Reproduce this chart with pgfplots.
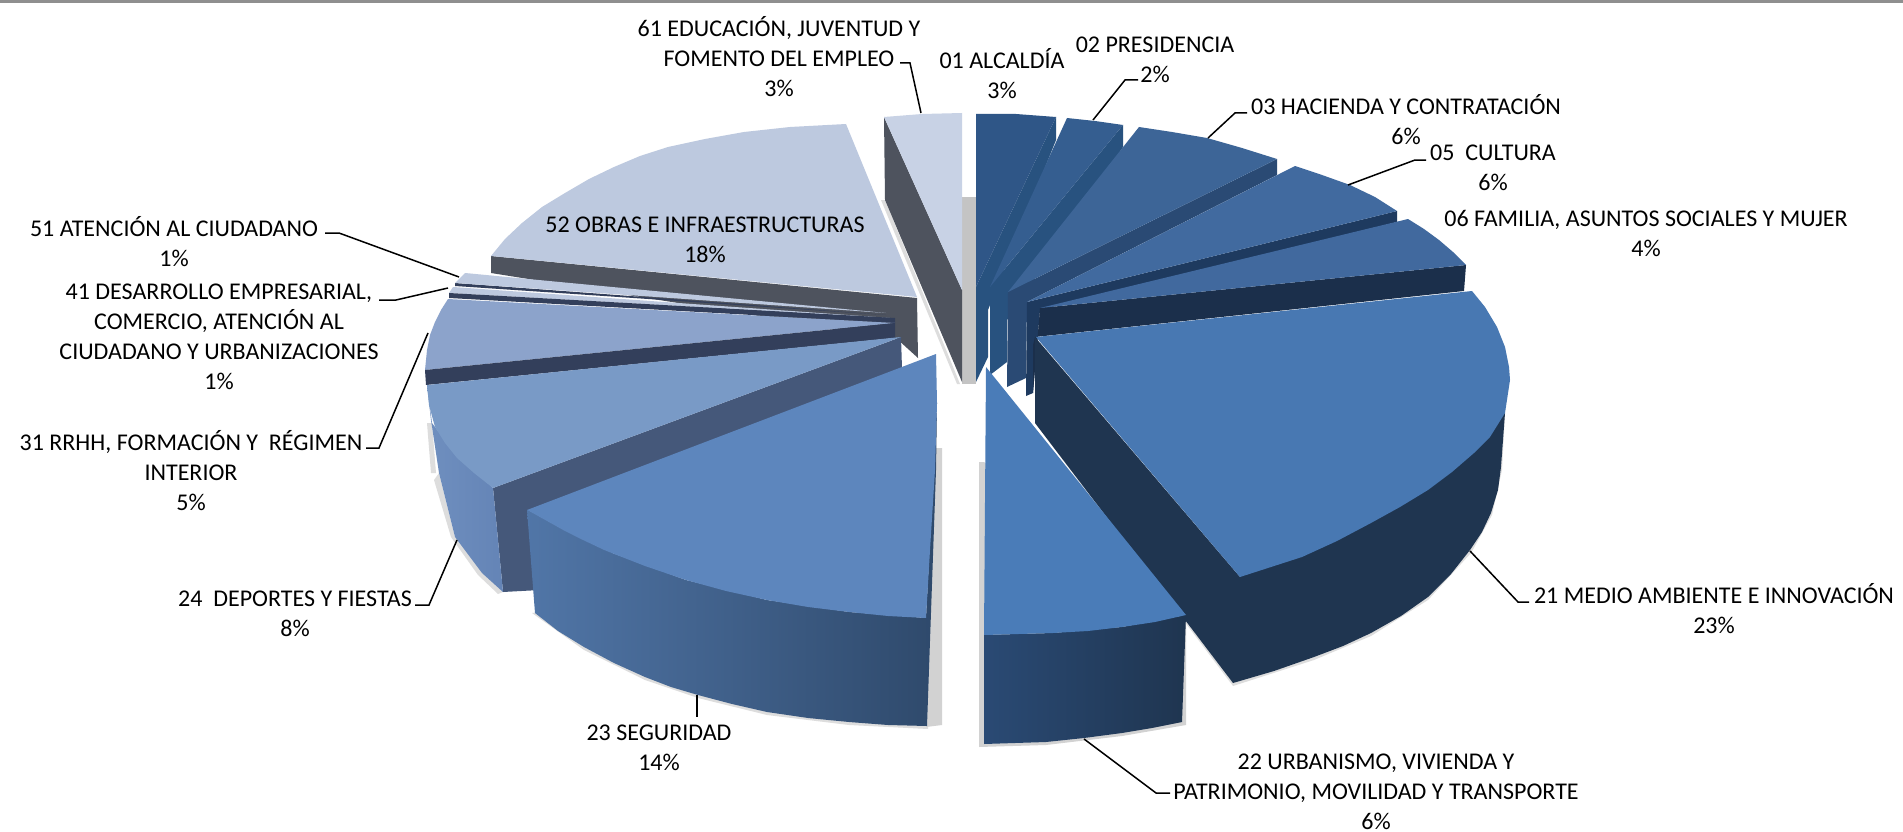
\documentclass[border=0pt]{standalone}
\usepackage{fontspec}
\setmainfont{Carlito}
\usepackage{pgfplots}
\pgfplotsset{compat=1.18}
\definecolor{t52}{HTML}{BDC9DF}
\definecolor{t61}{HTML}{C8D2E5}
\definecolor{s52}{HTML}{4E535E}
\definecolor{t31}{HTML}{8CA3CB}
\definecolor{t24}{HTML}{799AC6}
\definecolor{s24}{HTML}{45587A}
\definecolor{s31}{HTML}{333F5B}
\definecolor{t23}{HTML}{5D86BD}
\definecolor{t22}{HTML}{4A7CB8}
\definecolor{t21}{HTML}{4878B2}
\definecolor{t06}{HTML}{41699E}
\definecolor{t05}{HTML}{416A9F}
\definecolor{t03}{HTML}{3D6597}
\definecolor{t02}{HTML}{355E90}
\definecolor{t01}{HTML}{2F5687}
\definecolor{s01}{HTML}{28527F}
\definecolor{s03}{HTML}{2A4A74}
\definecolor{s05}{HTML}{1E3A5F}
\definecolor{s06}{HTML}{1B2F4B}
\definecolor{s21}{HTML}{1F3550}
\definecolor{shad}{HTML}{C4C4C4}
\definecolor{shadm}{HTML}{D2D2D2}
\definecolor{shadl}{HTML}{DDDDDD}
\definecolor{topb}{HTML}{8F8F8F}
\definecolor{oa}{HTML}{6F8FBF}
\definecolor{ob}{HTML}{6484B6}
\pgfplotsset{p/.style={draw=none,fill=#1},ld/.style={black,line width=1.5pt}}
\tikzset{lab/.style={align=center,text=black,inner sep=0pt,font=\fontsize{24}{30}\selectfont}}
\begin{document}
\begin{tikzpicture}
\begin{axis}[scale only axis,width=1903pt,height=832pt,xmin=0,xmax=1903,ymin=0,ymax=832,y dir=reverse,hide axis,clip=true]
\addplot[p=white] coordinates {(0,0)(1903,0)(1903,832)(0,832)} -- cycle;
\addplot[p=topb] coordinates {(0,0)(1903,0)(1903,3.5)(0,3.5)} -- cycle;
% shadows
\addplot[p=shad] coordinates {(962,197)(976,197)(976,384)(962,384)} -- cycle;
\addplot[p=shadl] coordinates {(881,200)(885,200)(960,384)(957,384)} -- cycle;
\addplot[p=shadl] coordinates {(1035,423)(1233,686)(1314,660)(1371,636)(1428,600)(1471,553)(1492,515)(1502,470)(1505,413)(1501,467)(1233,683)} -- cycle;
\addplot[p=shadm] coordinates {(979,462)(984,462)(1186,620)(1186,725)(1122,736)(1046,745)(979,747)} -- cycle;
\addplot[p=shadl] coordinates {(532,613)(584,650)(645,680)(698,698)(767,715)(849,725)(928,729)(928,600)} -- cycle;
\addplot[p=shadm] coordinates {(935,448)(942,448)(942,725)(926,727)} -- cycle;
\addplot[p=shadl] coordinates {(427,423)(431,473)(436,473)(432,423)} -- cycle;
\addplot[p=shadl] coordinates {(434,480)(451,537)(478,575)(498,594)(503,592)(455,537)(439,473)} -- cycle;
% 61
\addplot[p=s52] coordinates {(884,117)(962,290)(962,382)(885,200)} -- cycle;
\addplot[p=t61] coordinates {(884,117)(922,114)(962,113)(962,290)} -- cycle;
% 52
\addplot[p=s52] coordinates {(491,256)(917,298)(918,358)(896,338)(491,273)} -- cycle;
\addplot[p=t52] coordinates {(917,297)(491,256)(505,239)(522,223)(542,207)(565,193)(589,179)(614,167)(640,156)(668,147)(705,139)(744,132)(790,127)(846,124)} -- cycle;
% 51
\addplot[p=s31] coordinates {(455,283)(886,315)(455,286)} -- cycle;
\addplot[p=t52] coordinates {(465,273)(455,283)(886,313)} -- cycle;
% 41
\addplot[p=t52] coordinates {(453,287)(449,293)(890,318)} -- cycle;
\addplot[p=s31] coordinates {(449,293)(895,318)(895,323)(449,298)} -- cycle;
% 31
\addplot[p=t31] coordinates {(448,299)(441,310)(435,322)(430,335)(427,350)(425,370)(895,323)} -- cycle;
\addplot[p=s31] coordinates {(425,370)(895,323)(895,338)(426,385)} -- cycle;
% 24
\addplot[p=s24] coordinates {(493,488)(901,337)(903,400)(540,590)(503,592)} -- cycle;
\addplot[draw=none,left color=oa,right color=ob] coordinates {(427,385)(432,423)(454,453)(493,488)(503,592)(482,573)(455,537)(439,473)(431,420)} -- cycle;
\addplot[p=t24] coordinates {(901,337)(427,385)(429,405)(435,427)(445,443)(457,458)(474,473)(493,488)} -- cycle;
% 01
\addplot[p=s01] coordinates {(1056,117)(1056,140)(988,310)(988,357)(976,382)(976,287)} -- cycle;
\addplot[p=t01] coordinates {(976,114)(1016,114)(1056,117)(976,287)} -- cycle;
% 02
\addplot[p=s01] coordinates {(1123,125)(1123,147)(1007,320)(1007,362)(990,375)(990,287)} -- cycle;
\addplot[p=t02] coordinates {(1067,118)(1095,121)(1123,125)(990,287)} -- cycle;
% 03
\addplot[p=s03] coordinates {(1277,159)(1277,175)(1027,302)(1026,378)(1007,387)(1008,292)} -- cycle;
\addplot[p=t03] coordinates {(1139,127)(1172,132)(1207,138)(1242,148)(1277,159)(1008,292)} -- cycle;
% 05
\addplot[p=s05] coordinates {(1397,211)(1397,222)(1040,310)(1033,393)(1026,396)(1027,302)} -- cycle;
\addplot[p=t05] coordinates {(1295,166)(1322,175)(1350,185)(1375,197)(1397,211)(1027,302)} -- cycle;
% 06
\addplot[p=s06] coordinates {(1466,265)(1464,291)(1035,337)(1033,345)(1033,393)(1040,308)} -- cycle;
\addplot[p=t06] coordinates {(1408,219)(1424,229)(1439,240)(1453,252)(1466,265)(1040,308)} -- cycle;
% 21
\addplot[p=s21] coordinates {(1035,337)(1240,577)(1505,413)(1503,440)(1501,467)(1498,490)(1491,513)(1482,532)(1470,550)(1451,574)(1428,597)(1401,616)(1371,633)(1343,646)(1314,657)(1274,671)(1233,683)(1035,423)} -- cycle;
\addplot[p=t21] coordinates {(1036,337)(1472,291)(1485,307)(1497,327)(1505,347)(1509,367)(1510,380)(1505,413)(1490,437)(1474,453)(1452,472)(1428,490)(1400,507)(1371,523)(1337,541)(1302,557)(1271,567)(1240,577)} -- cycle;
% 22
\addplot[draw=none,left color=s03,right color=s21] coordinates {(984,635)(1053,633)(1122,627)(1186,615)(1182,722)(1152,728)(1122,733)(1084,738)(1046,742)(984,744)} -- cycle;
\addplot[p=t22] coordinates {(986,367)(1186,615)(1155,622)(1122,627)(1088,631)(1053,633)(984,635)} -- cycle;
% 23
\addplot[draw=none,left color=t23!80!s21,right color=t23!25!s21] coordinates {(527,510)(563,530)(604,550)(686,580)(767,600)(849,612)(926,618)(937,403)(936,470)(927,726)(888,725)(849,722)(808,718)(767,712)(732,704)(698,695)(671,687)(645,677)(614,663)(584,647)(558,631)(535,613)} -- cycle;
\addplot[p=t23] coordinates {(936,354)(937,403)(935,470)(930,550)(926,618)(888,616)(849,612)(808,607)(767,600)(726,591)(686,580)(645,566)(604,550)(583,540)(563,530)(545,520)(527,510)} -- cycle;
% leaders
\addplot[ld] coordinates {(900,63)(910,63)(921,113)};
\addplot[ld] coordinates {(1138,80)(1125,80)(1093,120)};
\addplot[ld] coordinates {(1247,113)(1235,113)(1208,138)};
\addplot[ld] coordinates {(1426,160)(1415,160)(1348,185)};
\addplot[ld] coordinates {(1529,602)(1518,602)(1470,551)};
\addplot[ld] coordinates {(1084,739)(1156,793)(1170,793)};
\addplot[ld] coordinates {(697,695)(697,717)};
\addplot[ld] coordinates {(457,540)(429,605)(415,605)};
\addplot[ld] coordinates {(428,333)(379,448)(366,448)};
\addplot[ld] coordinates {(379,300)(396,300)(448,288)};
\addplot[ld] coordinates {(325,233)(339,233)(459,277)};
% labels
\node[lab] at (axis cs:779,57) {61 EDUCACIÓN, JUVENTUD Y\\FOMENTO DEL EMPLEO\\3\%};
\node[lab] at (axis cs:1002,74) {01 ALCALDÍA\\3\%};
\node[lab] at (axis cs:1155,60) {02 PRESIDENCIA\\2\%};
\node[lab] at (axis cs:1406,120) {03 HACIENDA Y CONTRATACIÓN\\6\%};
\node[lab] at (axis cs:1493,168) {05~~CULTURA\\6\%};
\node[lab] at (axis cs:1646,233) {06 FAMILIA, ASUNTOS SOCIALES Y MUJER\\4\%};
\node[lab] at (axis cs:1714,609) {21 MEDIO AMBIENTE E INNOVACIÓN\\23\%};
\node[lab] at (axis cs:1376,792) {22 URBANISMO, VIVIENDA Y\\PATRIMONIO, MOVILIDAD Y TRANSPORTE\\6\%};
\node[lab] at (axis cs:659,748) {23 SEGURIDAD\\14\%};
\node[lab] at (axis cs:295,614) {24~~DEPORTES Y FIESTAS\\8\%};
\node[lab] at (axis cs:191,471) {31 RRHH, FORMACIÓN Y~~RÉGIMEN\\INTERIOR\\5\%};
\node[lab] at (axis cs:219,337) {41 DESARROLLO EMPRESARIAL,\\COMERCIO, ATENCIÓN AL\\CIUDADANO Y URBANIZACIONES\\1\%};
\node[lab] at (axis cs:174,242) {51 ATENCIÓN AL CIUDADANO\\1\%};
\node[lab] at (axis cs:705,240) {52 OBRAS E INFRAESTRUCTURAS\\18\%};
\end{axis}
\end{tikzpicture}
\end{document}
